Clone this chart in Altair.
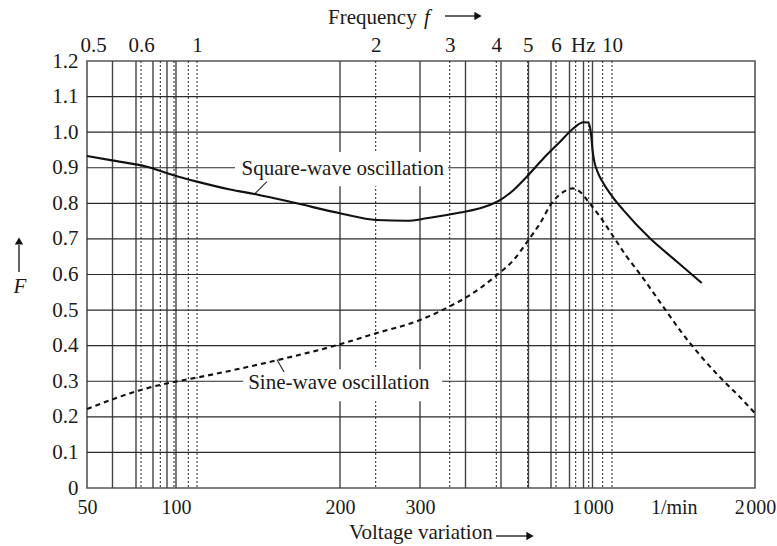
import altair as alt
import pandas as pd

# ---------------- data ----------------
# bottom axis: voltage variation (1/min) grid stops
volt_grid = [50, 60, 70, 80, 90, 100, 200, 300, 400, 500, 600, 700, 800, 900, 1000, 2000]
volt_labels = [50, 100, 200, 300, 1000, 1500, 2000]   # 1500 -> "1/min"

# top axis: frequency f (Hz) grid stops
freq_grid = [0.6, 0.7, 0.8, 0.9, 1, 2, 3, 4, 5, 6, 7, 8, 9, 10]
freq_labels = [0.5, 0.6, 1, 2, 3, 4, 5, 6, 7.55, 10]  # 7.55 -> "Hz"

# y axis
y_grid = [0.1, 0.2, 0.3, 0.4, 0.5, 0.6, 0.7, 0.8, 0.9, 1.0, 1.1]
y_ticks = [0, 0.1, 0.2, 0.3, 0.4, 0.5, 0.6, 0.7, 0.8, 0.9, 1.0, 1.1, 1.2]

# square-wave oscillation (solid)
sq_x = [50, 60.4, 76.4, 97.3, 112.8, 133, 149.3, 173.6, 200, 245.9, 283.4, 314.8,
        388.3, 450.4, 497.2, 545, 594, 666, 749, 828.6, 900, 950, 975, 990, 1000,
        1010, 1030, 1060, 1130, 1190, 1355, 1520, 1672]
sq_y = [0.933, 0.92, 0.903, 0.879, 0.861, 0.839, 0.825, 0.800, 0.772, 0.753, 0.751, 0.758,
        0.774, 0.789, 0.809, 0.837, 0.875, 0.926, 0.973, 1.011, 1.028, 1.027, 1.01, 0.98, 0.95,
        0.92, 0.89, 0.862, 0.814, 0.781, 0.701, 0.636, 0.576]

# sine-wave oscillation (dashed)
sn_x = [50, 72.5, 97.3, 106.7, 161.5, 200, 243.8, 300, 366.2, 403.9, 488, 545, 600,
        651.5, 703, 767, 824.3, 876.4, 955.6, 1047, 1129, 1211, 1283, 1436, 1539,
        1662, 1785, 1908, 2000]
sn_y = [0.222, 0.275, 0.298, 0.305, 0.359, 0.404, 0.434, 0.472, 0.511, 0.537, 0.598, 0.640, 0.697,
        0.744, 0.80, 0.832, 0.842, 0.832, 0.804, 0.762, 0.706, 0.65, 0.607, 0.509, 0.443,
        0.373, 0.311, 0.255, 0.21]

# curve labels (text, anchor x, anchor y, box x0, x1, y0, y1, leader x0, y0, x1, y1)
lab_text = ["Square-wave oscillation", "Sine-wave oscillation"]
lab_x = [140, 144]
lab_y = [0.897, 0.294]
box_x0 = [136, 141]
box_x1 = [362, 348.6]
box_y0 = [0.848, 0.244]
box_y1 = [0.944, 0.334]
lead_x0 = [155.4, 161.5]
lead_y0 = [0.861, 0.361]
lead_x1 = [148.3, 165.9]
lead_y1 = [0.828, 0.326]

# ---------------- layout / style ----------------
W, H = 668, 427
FONT = "Liberation Serif"
FS = 21
LFS = 20
TXT = "#1a1a1a"

# the printed axes are not uniformly logarithmic: piecewise scale through the grid stops
volt_range = [0, 25.5, 49, 66, 80, 89, 253, 333, 378.5, 414, 441.5, 464, 482.5, 496.5, 505.5, 668]
freq_domain = [0.5] + freq_grid
freq_range = [6, 54, 73.3, 87, 101.3, 110, 288.7, 362.7, 409.3, 440.7, 469, 488.7, 501.7, 515.7, 525]

xscale = alt.Scale(type="linear", domain=volt_grid, range=volt_range, nice=False, zero=False)
fscale = alt.Scale(type="linear", domain=freq_domain, range=freq_range, nice=False, zero=False)
yscale = alt.Scale(domain=[0, 1.2], nice=False, zero=True)

xaxis = alt.Axis(orient="bottom", values=volt_labels, title=None, domain=False, ticks=False,
                 grid=False, labelPadding=9, labelFont=FONT, labelFontSize=LFS, labelColor=TXT,
                 labelFlush=False, labelOverlap=False,
                 labelExpr="datum.value == 1500 ? '1/min' : datum.value == 1000 ? '1\u200a000' : "
                           "datum.value == 2000 ? '2\u200a000' : '' + datum.value")
faxis = alt.Axis(orient="top", values=freq_labels, title=None, domain=False, ticks=False,
                 grid=False, labelPadding=6, labelFont=FONT, labelFontSize=FS, labelColor=TXT,
                 labelFlush=False, labelOverlap=False,
                 labelExpr="datum.value == 7.55 ? 'Hz' : '' + datum.value")
yaxis = alt.Axis(values=y_ticks, title=None, domain=False, ticks=False, grid=False,
                 labelPadding=9, labelFont=FONT, labelFontSize=FS, labelColor=TXT,
                 labelFlush=False, labelOverlap=False,
                 labelExpr="datum.value == 0 ? '0' : format(datum.value, '.1f')")


def X(f):
    return alt.X(f, type="quantitative", scale=xscale, axis=xaxis)


def X2(f):
    return alt.X2(f)


def Y(f):
    return alt.Y(f, type="quantitative", scale=yscale, axis=yaxis)


one = pd.DataFrame({"a": [0]})

# frequency dotted grid (own top scale)
freq_df = pd.DataFrame({"f": freq_grid})
freq_layer = alt.layer(
    alt.Chart(freq_df).mark_rule(color="#222", strokeWidth=1, strokeDash=[2, 2]).encode(
        x=alt.X("f:Q", scale=fscale, axis=faxis)),
)

vgrid = alt.Chart(pd.DataFrame({"v": volt_grid[1:-1]})).mark_rule(
    color="#444", strokeWidth=1.4).encode(x=X("v"))
hgrid = alt.Chart(pd.DataFrame({"y": y_grid})).mark_rule(
    color="#2a2a2a", strokeWidth=1.1).encode(y=Y("y"))

lab_df = pd.DataFrame({"t": lab_text, "x": lab_x, "y": lab_y, "bx0": box_x0, "bx1": box_x1,
                       "by0": box_y0, "by1": box_y1, "lx0": lead_x0, "ly0": lead_y0,
                       "lx1": lead_x1, "ly1": lead_y1})
boxes = alt.Chart(lab_df).mark_rect(color="white").encode(
    x=X("bx0"), x2=X2("bx1"), y=Y("by0"), y2=alt.Y2("by1"))
texts = alt.Chart(lab_df).mark_text(align="left", baseline="middle", font=FONT, fontSize=FS,
                                    color=TXT).encode(x=X("x"), y=Y("y"), text="t:N")
leaders = alt.Chart(lab_df).mark_rule(color="#222", strokeWidth=1.1).encode(
    x=X("lx0"), x2=X2("lx1"), y=Y("ly0"), y2=alt.Y2("ly1"))

sq_df = pd.DataFrame({"x": sq_x, "y": sq_y})
sn_df = pd.DataFrame({"x": sn_x, "y": sn_y})
sq_line = alt.Chart(sq_df).mark_line(color="#111", strokeWidth=2.1, interpolate="monotone").encode(
    x=X("x"), y=Y("y"))
sn_line = alt.Chart(sn_df).mark_line(color="#111", strokeWidth=2.1, strokeDash=[5, 4],
                                     interpolate="monotone").encode(x=X("x"), y=Y("y"))


def txt(s, x, y, italic=False, align="left"):
    return alt.Chart(one).mark_text(text=s, align=align, baseline="middle", font=FONT, fontSize=FS,
                                    color=TXT, fontStyle="italic" if italic else "normal").encode(
        x=alt.value(x), y=alt.value(y))


def hline(x0, x1, y):
    return alt.Chart(one).mark_rule(color="#111", strokeWidth=1.3).encode(
        x=alt.value(x0), x2=alt.value(x1), y=alt.value(y))


def vline(x, y0, y1):
    return alt.Chart(one).mark_rule(color="#111", strokeWidth=1.3).encode(
        x=alt.value(x), y=alt.value(y0), y2=alt.value(y1))


def head(x, y, shape):
    return alt.Chart(one).mark_point(shape=shape, filled=True, size=70, color="#111", opacity=1).encode(
        x=alt.value(x), y=alt.value(y))


titles = [
    txt("Frequency", 241, -43), txt("f", 337, -43, italic=True),
    hline(358, 388, -45), head(391, -45, "triangle-right"),
    txt("Voltage variation", 262, 472),
    hline(409, 440, 475), head(443, 475, "triangle-right"),
    vline(-68, 184, 211), head(-68, 180, "triangle-up"),
    txt("F", -67, 226, italic=True, align="center"),
]

volt_group = alt.layer(vgrid, hgrid, boxes, texts, leaders, sq_line, sn_line, *titles)

chart = alt.layer(freq_layer, volt_group).resolve_scale(x="independent").properties(
    width=W, height=H,
    autosize=alt.AutoSizeParams(type="none"),
    padding={"left": 87, "top": 61, "right": 22, "bottom": 58},
    background="white",
).configure_view(stroke="#555", strokeWidth=1.6)

chart.save("out.html", embed_options={"renderer": "svg", "actions": False})
